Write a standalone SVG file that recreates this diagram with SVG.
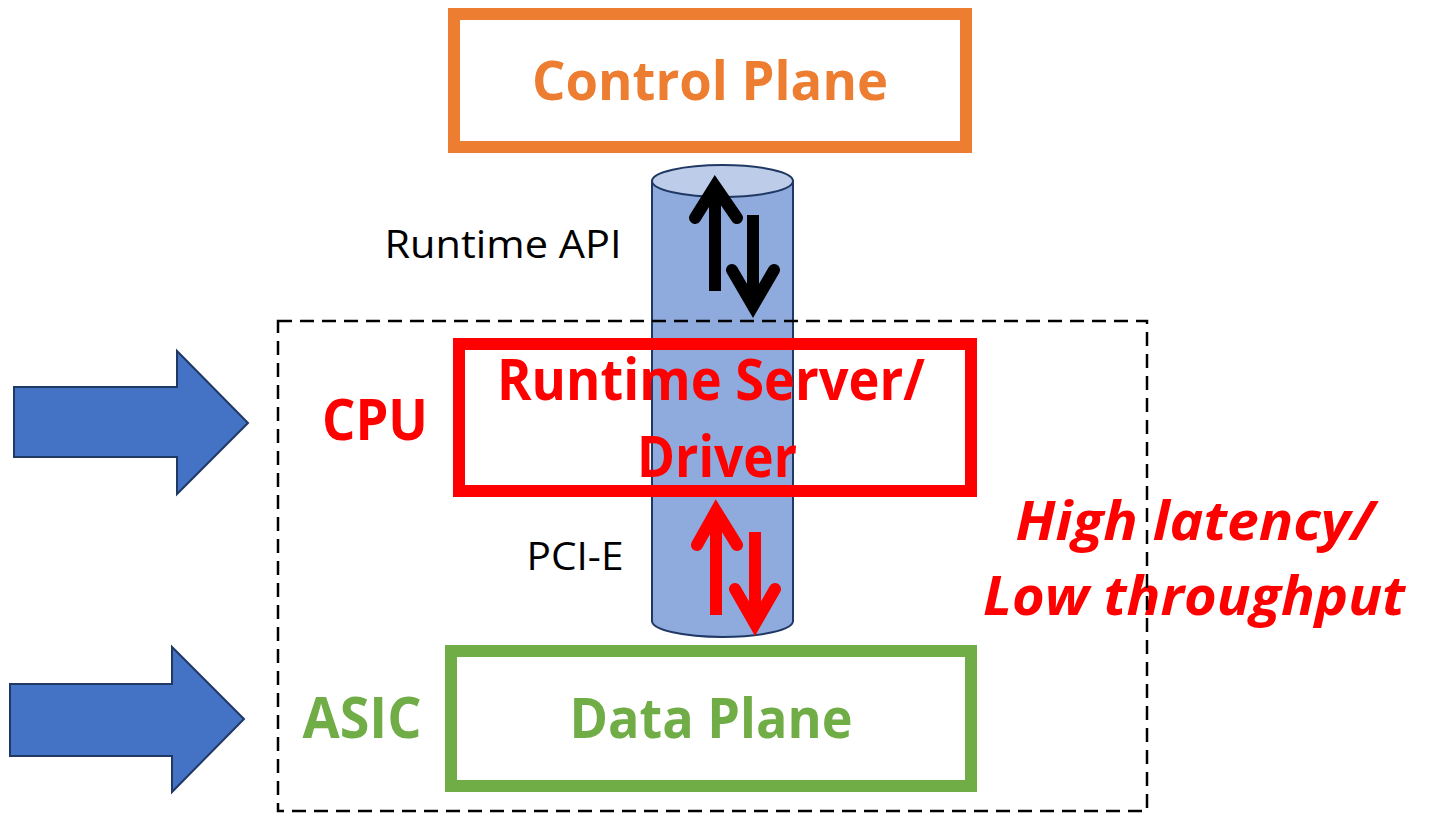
<svg xmlns="http://www.w3.org/2000/svg" width="1438" height="814" viewBox="0 0 1438 814">
<style>
.t{font-family:"Open Sans","Noto Sans","Liberation Sans",sans-serif;}
.b{font-weight:bold;}
.box{fill:none;stroke-width:12;}
.blk{stroke:#000;stroke-width:12;fill:none;}
.red{stroke:#FF0000;stroke-width:12;fill:none;}
.head{stroke-linecap:round;stroke-linejoin:miter;}
.bigarrow{fill:#4472C4;stroke:#1F3864;stroke-width:2;}
</style>
<rect width="1438" height="814" fill="#fff"/>
<g id="cylinder">
  <path d="M652,181 V621 A70.5,16 0 0 0 793,621 V181 Z" fill="#8FAADC" stroke="#1F3864" stroke-width="2"/>
  <ellipse cx="722.5" cy="181" rx="70.5" ry="16" fill="#BDCDE9" stroke="#1F3864" stroke-width="2"/>
</g>
<g id="control-plane">
  <rect class="box" x="454" y="14" width="512" height="133" stroke="#ED7D31"/>
  <text class="t b" x="710" y="100" font-size="54" fill="#ED7D31" text-anchor="middle" textLength="356" lengthAdjust="spacingAndGlyphs">Control Plane</text>
</g>
<g id="runtime-server">
  <rect class="box" x="459" y="344" width="512" height="147" stroke="#FF0000"/>
  <text class="t b" x="711" y="400" font-size="57" fill="#FF0000" text-anchor="middle" textLength="428" lengthAdjust="spacingAndGlyphs">Runtime Server/</text>
  <text class="t b" x="717" y="477" font-size="57" fill="#FF0000" text-anchor="middle" textLength="160" lengthAdjust="spacingAndGlyphs">Driver</text>
</g>
<g id="data-plane">
  <rect class="box" x="451" y="651" width="520" height="135" stroke="#70AD47"/>
  <text class="t b" x="711" y="738" font-size="56" fill="#70AD47" text-anchor="middle" textLength="283" lengthAdjust="spacingAndGlyphs">Data Plane</text>
</g>
<g id="cpu-label">
  <text class="t b" x="375" y="440" font-size="58" fill="#FF0000" text-anchor="middle" textLength="106" lengthAdjust="spacingAndGlyphs">CPU</text>
</g>
<g id="asic-label">
  <text class="t b" x="362" y="738" font-size="57" fill="#70AD47" text-anchor="middle" textLength="119" lengthAdjust="spacingAndGlyphs">ASIC</text>
</g>
<g id="latency-label">
  <text class="t b" x="1195" y="540" font-size="54" font-style="italic" fill="#FF0000" text-anchor="middle" textLength="359" lengthAdjust="spacingAndGlyphs">High latency/</text>
  <text class="t b" x="1194" y="615" font-size="54" font-style="italic" fill="#FF0000" text-anchor="middle" textLength="422" lengthAdjust="spacingAndGlyphs">Low throughput</text>
</g>
<g id="input-arrow-top">
  <polygon class="bigarrow" points="14,387 177,387 177,351 248,423 177,494 177,457 14,457"/>
</g>
<g id="input-arrow-bottom">
  <polygon class="bigarrow" points="10,684 172,684 172,647 244,719 172,792 172,756 10,756"/>
</g>
<g id="connectors">
  <text class="t" x="503" y="258" font-size="39" fill="#000" text-anchor="middle" textLength="237" lengthAdjust="spacingAndGlyphs">Runtime API</text>
  <text class="t" x="575" y="570" font-size="38" fill="#000" text-anchor="middle" textLength="97" lengthAdjust="spacingAndGlyphs">PCI-E</text>
  <line class="blk" x1="715" y1="291" x2="715" y2="190"/>
  <polyline class="blk head" points="695,218 715,186 737,218"/>
  <line class="blk" x1="753" y1="215" x2="753" y2="304"/>
  <polyline class="blk head" points="732,270 753,306 774,270"/>
  <line class="red" x1="716" y1="615" x2="716" y2="514"/>
  <polyline class="red head" points="697,545 716,511 737,545"/>
  <line class="red" x1="755" y1="532" x2="755" y2="622"/>
  <polyline class="red head" points="735,589 755,624 775,589"/>
</g>
<g id="boundary">
  <rect x="278" y="321" width="869" height="490" fill="none" stroke="#000" stroke-width="2.5" stroke-dasharray="14,8"/>
</g>
</svg>
